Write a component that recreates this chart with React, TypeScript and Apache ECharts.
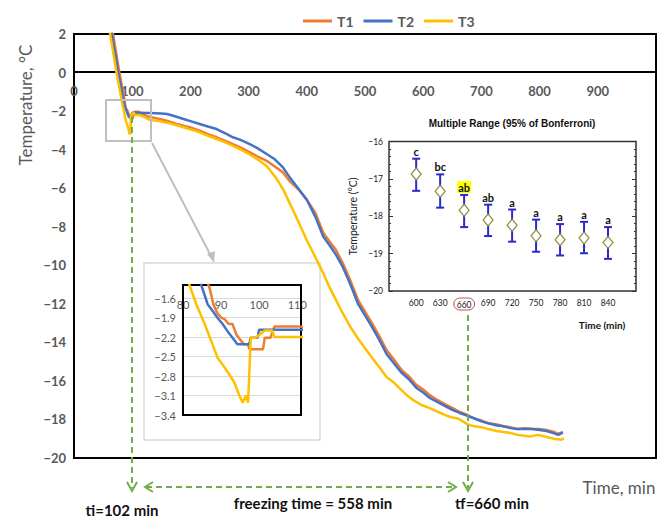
import React, { useEffect, useRef } from 'react';
import * as echarts from 'echarts';

// ---------- main curves: [time (min), temperature (°C)] ----------
const seriesNames = ['T1', 'T2', 'T3'];
const seriesColors = ['#ED7D31', '#4472C4', '#FFC000'];

const t1Data: [number, number][] = [
  [62, 3.0], [67, 2.0], [72, 1.1], [78, 0.0], [83, -0.8], [87, -1.45], [88, -1.7], [89, -1.83], [90, -1.9],
  [91, -1.93], [92, -2.0], [93, -2.0], [94, -2.16], [95, -2.24], [96, -2.31], [97, -2.31], [97.5, -2.39],
  [101, -2.39], [101.5, -2.21], [103, -2.21], [104, -2.04], [111, -2.04], [120, -2.2], [130, -2.3], [145, -2.4],
  [159, -2.5], [175, -2.65], [188, -2.76], [200, -2.85], [216, -3.02], [230, -3.2], [245, -3.36], [260, -3.55],
  [273, -3.71], [290, -3.95], [302, -4.14], [315, -4.35], [331, -4.58], [345, -4.88], [359, -5.18], [371, -5.65],
  [388, -6.14], [400, -6.6], [415, -7.3], [428, -8.3], [440, -8.8], [450, -9.2], [462, -9.9], [475, -10.8],
  [488, -11.8], [500, -12.4], [512, -13.0], [525, -13.7], [537, -14.4], [550, -14.9], [562, -15.4], [575, -15.75],
  [588, -16.2], [600, -16.45], [612, -16.75], [625, -17.0], [637, -17.2], [650, -17.4], [662, -17.6], [675, -17.75],
  [688, -17.95], [700, -18.05], [712, -18.2], [725, -18.25], [738, -18.35], [750, -18.4], [762, -18.5], [775, -18.45],
  [788, -18.5], [800, -18.5], [812, -18.55], [825, -18.65], [832, -18.75], [840, -18.65],
];

const t2Data: [number, number][] = [
  [60, 3.0], [65, 2.0], [70, 1.1], [76, 0.0], [81, -0.8], [84.8, -1.4], [86.5, -1.7], [87.8, -1.8], [89, -1.9],
  [90.4, -2.0], [91.7, -2.11], [93, -2.21], [94.3, -2.31], [97.4, -2.31], [97.8, -2.21], [99.6, -2.21], [100, -2.09],
  [111, -2.09], [130, -2.1], [150, -2.12], [160, -2.15], [175, -2.28], [188, -2.41], [200, -2.52], [216, -2.67],
  [230, -2.8], [245, -2.93], [260, -3.15], [273, -3.36], [285, -3.48], [302, -3.71], [315, -3.92], [331, -4.23],
  [345, -4.5], [359, -4.92], [371, -5.45], [385, -6.0], [400, -6.6], [415, -7.5], [428, -8.5], [440, -9.0],
  [450, -9.45], [462, -10.1], [475, -11.0], [488, -12.0], [500, -12.6], [512, -13.2], [525, -13.9], [537, -14.6],
  [550, -15.1], [562, -15.55], [575, -15.9], [588, -16.35], [600, -16.6], [612, -16.9], [625, -17.1], [637, -17.3],
  [650, -17.5], [662, -17.65], [675, -17.8], [688, -17.95], [700, -18.1], [712, -18.2], [725, -18.3], [738, -18.35],
  [750, -18.45], [762, -18.5], [775, -18.5], [788, -18.5], [800, -18.55], [812, -18.6], [825, -18.72], [832, -18.8],
  [840, -18.68],
];

const t3Data: [number, number][] = [
  [58, 3.0], [62, 2.0], [67, 1.1], [73, 0.0], [78, -0.8], [81.7, -1.4], [83.5, -1.7], [85.7, -2.0], [87.4, -2.26],
  [89.1, -2.52], [91.3, -2.7], [93.5, -2.9], [94.8, -3.1], [95.7, -3.21], [96.5, -3.1], [97.1, -3.21], [97.8, -2.21],
  [99.1, -2.21], [101.5, -2.1], [103.5, -2.1], [104, -2.2], [111, -2.2], [120, -2.3], [130, -2.45], [145, -2.52],
  [160, -2.6], [175, -2.72], [188, -2.84], [200, -2.95], [216, -3.1], [230, -3.28], [245, -3.45], [260, -3.62],
  [273, -3.8], [290, -4.05], [302, -4.25], [315, -4.5], [331, -4.85], [348, -5.5], [360, -6.1], [371, -6.8],
  [385, -7.7], [400, -8.7], [415, -9.6], [428, -10.4], [440, -11.2], [451, -11.86], [462, -12.5], [475, -13.2],
  [488, -13.8], [500, -14.3], [512, -14.8], [525, -15.3], [537, -15.8], [550, -16.1], [560, -16.4], [572, -16.75],
  [583, -17.0], [597, -17.25], [610, -17.4], [625, -17.6], [640, -17.8], [650, -17.9], [660, -17.95], [677, -18.27],
  [688, -18.35], [700, -18.4], [712, -18.5], [726, -18.6], [738, -18.65], [750, -18.7], [762, -18.8], [775, -18.85],
  [783, -18.88], [797, -18.8], [810, -18.9], [825, -19.0], [837, -19.05], [842, -18.98],
];

// ---------- multiple range inset ----------
const rangeTimes = [600, 630, 660, 690, 720, 750, 780, 810, 840];
const rangeMeans = [-16.87, -17.33, -17.84, -18.1, -18.24, -18.52, -18.63, -18.58, -18.7];
const rangeUpper = [-16.46, -16.88, -17.43, -17.69, -17.82, -18.09, -18.21, -18.15, -18.29];
const rangeLower = [-17.32, -17.77, -18.29, -18.53, -18.68, -18.95, -19.05, -18.99, -19.14];
const rangeGroups = ['c', 'bc', 'ab', 'ab', 'a', 'a', 'a', 'a', 'a'];

const FONT = 'Lato, "Liberation Sans", sans-serif';
const ARIAL = '"Liberation Sans", Arial, sans-serif';
const GREEN = '#70AD47';
const GREY_TXT = '#595959';

const minus = (v: number | string) => String(v).replace('-', '\u2212');

export default function App() {
  const ref = useRef<HTMLDivElement>(null);

  useEffect(() => {
    const chart = echarts.init(ref.current as HTMLDivElement, null, { renderer: 'svg' });
    const allData = [t1Data, t2Data, t3Data];

    const mainSeries = allData.map((d, i) => ({
      name: seriesNames[i],
      type: 'line',
      xAxisIndex: 0,
      yAxisIndex: 0,
      data: d,
      showSymbol: false,
      symbol: 'none',
      lineStyle: { color: seriesColors[i], width: 2.5 },
      itemStyle: { color: seriesColors[i] },
      clip: true,
      z: 3,
    }));
    const insetSeries = allData.map((d, i) => ({
      name: seriesNames[i],
      type: 'line',
      xAxisIndex: 1,
      yAxisIndex: 1,
      data: d,
      showSymbol: false,
      symbol: 'none',
      lineStyle: { color: seriesColors[i], width: 2.5 },
      itemStyle: { color: seriesColors[i] },
      clip: true,
      z: 3,
    }));

    const dash = { stroke: GREEN, lineWidth: 2, lineDash: [6, 4] };
    const solidGreen = { stroke: GREEN, lineWidth: 2, fill: null };

    chart.setOption({
      animation: false,
      backgroundColor: '#ffffff',
      legend: {
        data: seriesNames,
        left: 298,
        top: 9,
        icon: 'rect',
        itemWidth: 29,
        itemHeight: 3,
        itemGap: 10,
        selectedMode: false,
        textStyle: { fontFamily: FONT, fontWeight: 'bold', fontSize: 14, color: GREY_TXT },
      },
      grid: [
        { left: 74, top: 34, width: 582, height: 424, show: true, borderColor: '#000', borderWidth: 2, backgroundColor: 'transparent' },
        { left: 183, top: 285, width: 118, height: 130, show: true, borderColor: '#000', borderWidth: 2, backgroundColor: 'transparent', z: 2 },
        { left: 389, top: 141.5, width: 247, height: 149.5, show: true, borderColor: '#333', borderWidth: 1.5, backgroundColor: 'transparent' },
      ],
      xAxis: [
        {
          // axis line and labels sit on the 0 °C line (38 px below the top of the plot)
          gridIndex: 0, type: 'value', position: 'top', offset: -38, min: 0, max: 1000, interval: 100,
          axisLine: { show: true, onZero: false, lineStyle: { color: '#000', width: 2 } },
          axisTick: { show: false },
          splitLine: { show: false },
          axisLabel: {
            inside: true, margin: 12, fontFamily: FONT, fontWeight: 'bold', fontSize: 13, color: GREY_TXT, showMinLabel: true,
            formatter: (v: number) => (v === 1000 ? '' : String(v)),
          },
        },
        {
          gridIndex: 1, type: 'value', position: 'top', min: 80, max: 111, interval: 10,
          axisLine: { show: false }, axisTick: { show: false }, splitLine: { show: false },
          axisLabel: {
            inside: true, margin: 14, fontFamily: FONT, fontSize: 11, color: GREY_TXT,
            formatter: (v: number) => (v === 111 ? '' : String(v)),
          },
        },
        {
          gridIndex: 2, type: 'value', min: 566, max: 875,
          axisLine: { show: false }, axisTick: { show: false }, splitLine: { show: false },
          axisLabel: {
            customValues: rangeTimes, margin: 7, fontFamily: FONT, fontSize: 8.5, color: '#222',
            formatter: (v: number) => (v === 660 ? '{c|660}' : String(v)),
            rich: {
              c: { fontFamily: FONT, fontSize: 8.5, color: '#222', borderColor: '#C0504D', borderWidth: 1, borderRadius: 8, padding: [2, 3, 1, 3] },
            },
          },
        },
      ],
      yAxis: [
        {
          gridIndex: 0, type: 'value', min: -20, max: 2, interval: 2,
          axisLine: { show: false }, axisTick: { show: false }, splitLine: { show: false },
          axisLabel: { fontFamily: FONT, fontWeight: 'bold', fontSize: 13, color: GREY_TXT, formatter: (v: number) => minus(v) },
        },
        {
          gridIndex: 1, type: 'value', min: -3.4, max: -1.4, interval: 0.3,
          axisLine: { show: false }, axisTick: { show: false },
          splitLine: { show: true, lineStyle: { color: '#D9D9D9', width: 1 } },
          axisLabel: {
            fontFamily: FONT, fontSize: 11, color: GREY_TXT, margin: 7,
            formatter: (v: number) => (Math.abs(v + 1.4) < 1e-6 ? '' : minus(v.toFixed(1))),
          },
        },
        {
          gridIndex: 2, type: 'value', min: -20, max: -16, interval: 1,
          name: 'Temperature (\u00B0C)', nameLocation: 'middle', nameGap: 31, nameRotate: 90,
          nameTextStyle: { fontFamily: FONT, fontSize: 10.5, color: '#222' },
          axisLine: { show: false },
          axisTick: { show: true, inside: true, length: 4, lineStyle: { color: '#333' } },
          minorTick: { show: true, splitNumber: 5, length: 2, lineStyle: { color: '#333' } },
          splitLine: { show: false },
          axisLabel: { fontFamily: FONT, fontSize: 8.5, color: '#222', margin: 6, formatter: (v: number) => minus(v) },
        },
        {
          gridIndex: 2, type: 'value', position: 'right', min: -20, max: -16, interval: 1,
          axisLine: { show: false },
          axisTick: { show: true, inside: true, length: 4, lineStyle: { color: '#333' } },
          minorTick: { show: true, splitNumber: 5, length: 2, lineStyle: { color: '#333' } },
          splitLine: { show: false },
          axisLabel: { show: false },
        },
      ],
      series: [
        ...mainSeries,
        ...insetSeries,
        {
          type: 'custom',
          xAxisIndex: 2,
          yAxisIndex: 2,
          data: rangeTimes.map((t, i) => [t, rangeUpper[i], rangeLower[i]]),
          z: 3,
          renderItem: (params: any, api: any) => {
            const i = params.dataIndex;
            const x = api.value(0);
            const top = api.coord([x, api.value(1)]);
            const bot = api.coord([x, api.value(2)]);
            const cap = 4;
            const st = { stroke: '#2B2BC8', lineWidth: 2 };
            const hl = i === 2;
            return {
              type: 'group',
              children: [
                { type: 'line', shape: { x1: top[0], y1: top[1], x2: bot[0], y2: bot[1] }, style: st },
                { type: 'line', shape: { x1: top[0] - cap, y1: top[1], x2: top[0] + cap, y2: top[1] }, style: st },
                { type: 'line', shape: { x1: bot[0] - cap, y1: bot[1], x2: bot[0] + cap, y2: bot[1] }, style: st },
                {
                  type: 'text',
                  x: top[0],
                  y: top[1] - 2,
                  style: {
                    text: rangeGroups[i],
                    textAlign: 'center',
                    textVerticalAlign: 'bottom',
                    font: `bold 11px ${FONT}`,
                    fill: '#111',
                    backgroundColor: hl ? '#FFFF00' : undefined,
                    padding: hl ? [1, 1, 0, 1] : 0,
                  },
                },
              ],
            };
          },
        },
        {
          type: 'scatter',
          xAxisIndex: 2,
          yAxisIndex: 2,
          data: rangeTimes.map((t, i) => [t, rangeMeans[i]]),
          symbol: 'diamond',
          symbolSize: [10, 12],
          itemStyle: { color: '#ffffff', borderColor: '#8C8C3F', borderWidth: 1.2, opacity: 1 },
          emphasis: { disabled: true },
          z: 4,
        },
      ],
      graphic: [
        // inset box background
        { type: 'rect', z: -10, shape: { x: 144, y: 263, width: 176, height: 177 }, style: { fill: '#fff', stroke: '#D9D9D9', lineWidth: 1.5 } },
        // zoom rectangle + connector
        { type: 'rect', z: 10, shape: { x: 106, y: 100, width: 45, height: 41 }, style: { fill: null, stroke: '#BFBFBF', lineWidth: 2 } },
        { type: 'line', z: 10, shape: { x1: 152, y1: 143, x2: 211, y2: 256 }, style: { stroke: '#BFBFBF', lineWidth: 2 } },
        { type: 'polygon', z: 10, shape: { points: [[214, 263], [207, 254], [215, 251]] }, style: { fill: '#BFBFBF' } },
        // axis titles
        {
          type: 'text', x: 25, y: 105, rotation: Math.PI / 2,
          style: { text: 'Temperature, \u00B0C', textAlign: 'center', textVerticalAlign: 'middle', font: `17px ${FONT}`, fill: GREY_TXT },
        },
        {
          type: 'text', x: 619, y: 487,
          style: { text: 'Time, min', textAlign: 'center', textVerticalAlign: 'middle', font: `17px ${FONT}`, fill: GREY_TXT },
        },
        // inset title and axis name
        {
          type: 'text', x: 512, y: 123,
          style: { text: 'Multiple Range (95% of Bonferroni)', textAlign: 'center', textVerticalAlign: 'middle', font: `bold 10px ${ARIAL}`, fill: '#111' },
        },
        {
          type: 'text', x: 602, y: 325,
          style: { text: 'Time (min)', textAlign: 'center', textVerticalAlign: 'middle', font: `bold 10px ${FONT}`, fill: '#111' },
        },
        // green dashed annotations
        { type: 'line', z: 10, shape: { x1: 132, y1: 117, x2: 132, y2: 488 }, style: dash },
        { type: 'polyline', z: 10, shape: { points: [[127, 482], [132, 491], [137, 482]] }, style: solidGreen },
        { type: 'line', z: 10, shape: { x1: 468, y1: 315, x2: 468, y2: 488 }, style: dash },
        { type: 'polyline', z: 10, shape: { points: [[463, 482], [468, 491], [473, 482]] }, style: solidGreen },
        { type: 'line', z: 10, shape: { x1: 146, y1: 487, x2: 455, y2: 487 }, style: dash },
        { type: 'polyline', z: 10, shape: { points: [[153, 482], [145, 487], [153, 492]] }, style: solidGreen },
        { type: 'polyline', z: 10, shape: { points: [[448, 482], [456, 487], [448, 492]] }, style: solidGreen },
        // annotation texts
        {
          type: 'text', x: 122, y: 510,
          style: { text: 'ti=102 min', textAlign: 'center', textVerticalAlign: 'middle', font: `bold 15px ${FONT}`, fill: '#111' },
        },
        {
          type: 'text', x: 313, y: 503,
          style: { text: 'freezing time = 558 min', textAlign: 'center', textVerticalAlign: 'middle', font: `bold 15px ${FONT}`, fill: '#111' },
        },
        {
          type: 'text', x: 492, y: 503,
          style: { text: 'tf=660 min', textAlign: 'center', textVerticalAlign: 'middle', font: `bold 15px ${FONT}`, fill: '#111' },
        },
      ],
    });

    return () => chart.dispose();
  }, []);

  return (
    <div
      ref={ref}
      style={{ position: 'fixed', left: 0, top: 0, width: 670, height: 523, background: '#fff' }}
    />
  );
}
